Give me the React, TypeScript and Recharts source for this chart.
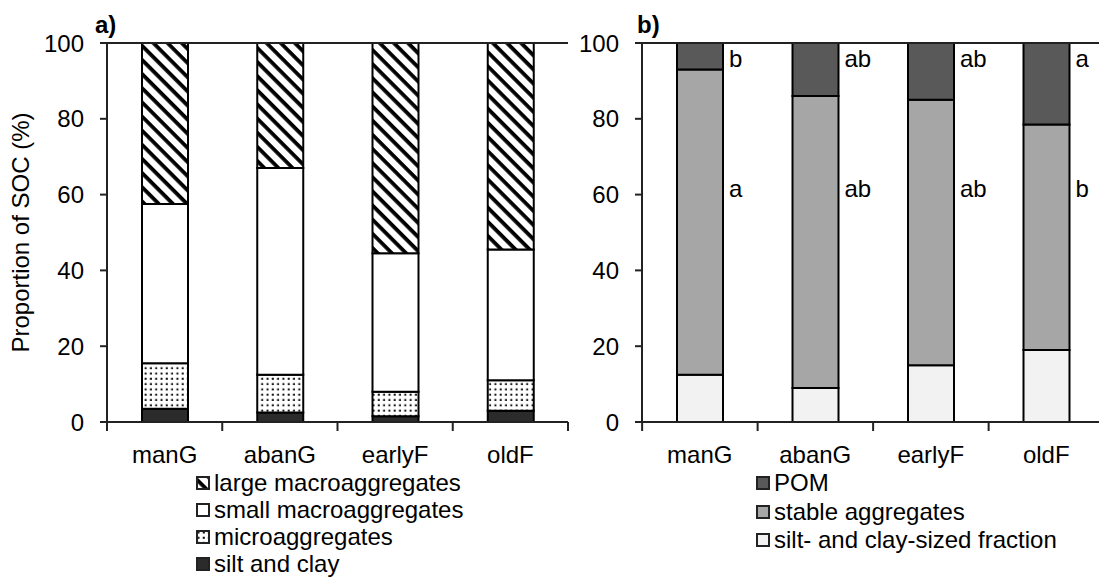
import { BarChart, Bar, XAxis, YAxis, ReferenceLine, LabelList, Legend } from "recharts";

const categories = ["manG", "abanG", "earlyF", "oldF"];
const yTicks = [0, 20, 40, 60, 80, 100];

// a) SOC in aggregate size classes (%), stacked from bottom
const siltAndClay = [3.5, 2.5, 1.5, 3];
const microaggregates = [12, 10, 6.5, 8];
const smallMacro = [42, 54.5, 36.5, 34.5];
const largeMacro = [42.5, 33, 55.5, 54.5];

// b) SOC in density fractions (%), stacked from bottom
const siltClaySized = [12.5, 9, 15, 19];
const stableAggregates = [80.5, 77, 70, 59.5];
const pom = [7, 14, 15, 21.5];
const pomLetters = ["b", "ab", "ab", "a"];
const stableLetters = ["a", "ab", "ab", "b"];

const dataA = categories.map((name, i) => ({
  name,
  silt: siltAndClay[i],
  micro: microaggregates[i],
  small: smallMacro[i],
  large: largeMacro[i],
}));

const dataB = categories.map((name, i) => ({
  name,
  fine: siltClaySized[i],
  stable: stableAggregates[i],
  pom: pom[i],
}));

const FONT = "'Liberation Sans', Arial, sans-serif";
const FS = 24;
const AXIS = "#222";
const H = 579;
const PLOT_W = 461;
const HALF_BAND = PLOT_W / categories.length / 2;

const legendA = [
  { label: "large macroaggregates", fill: "url(#stripes)" },
  { label: "small macroaggregates", fill: "#ffffff" },
  { label: "microaggregates", fill: "url(#dots)" },
  { label: "silt and clay", fill: "#2b2b2b" },
];

const legendB = [
  { label: "POM", fill: "#595959" },
  { label: "stable aggregates", fill: "#a6a6a6" },
  { label: "silt- and clay-sized fraction", fill: "#f2f2f2" },
];

function CategoryTick(props: any) {
  const { x, y, payload, index } = props;
  const last = index === categories.length - 1;
  return (
    <g>
      <line x1={x - HALF_BAND} x2={x - HALF_BAND} y1={y} y2={y + 9} stroke={AXIS} strokeWidth={2} />
      {last && (
        <line x1={x + HALF_BAND} x2={x + HALF_BAND} y1={y} y2={y + 9} stroke={AXIS} strokeWidth={2} />
      )}
      <text x={x} y={y + 41} textAnchor="middle" fontSize={FS} fill="#000" fontFamily={FONT}>
        {payload.value}
      </text>
    </g>
  );
}

function SocLabel(props: any) {
  const vb = props.viewBox || {};
  const cy = vb.y + vb.height / 2;
  return (
    <text
      x={20}
      y={cy}
      transform={`rotate(-90, 20, ${cy})`}
      textAnchor="middle"
      dominantBaseline="central"
      fontSize={FS}
      fill="#000"
      fontFamily={FONT}
    >
      Proportion of SOC (%)
    </text>
  );
}

function LetterLabel(props: any) {
  const { x, y, width, index } = props;
  const tx = Number(x) + Number(width) + 6;
  return (
    <g fontSize={FS} fill="#000" fontFamily={FONT}>
      <text x={tx} y={Number(y) + 24}>{pomLetters[index]}</text>
      <text x={tx} y={Number(y) + 154}>{stableLetters[index]}</text>
    </g>
  );
}

function LegendBox({ items, rowH }: { items: { label: string; fill: string }[]; rowH: number }) {
  return (
    <div style={{ fontFamily: FONT, fontSize: FS, color: "#000" }}>
      {items.map((it) => (
        <div key={it.label} style={{ display: "flex", alignItems: "center", height: rowH, whiteSpace: "nowrap" }}>
          <svg width={15} height={14} style={{ marginRight: 3 }}>
            <rect x={1} y={1} width={12} height={12} fill={it.fill} stroke={AXIS} strokeWidth={2} />
          </svg>
          {it.label}
        </div>
      ))}
    </div>
  );
}

const yAxisProps = {
  domain: [0, 100] as [number, number],
  ticks: yTicks,
  interval: 0 as const,
  tickSize: 7,
  tickMargin: 16,
  stroke: AXIS,
  strokeWidth: 2,
  tick: { fill: "#000", fontSize: FS, fontFamily: FONT },
  allowDataOverflow: true,
};

const titleStyle = {
  position: "absolute" as const,
  top: 13,
  fontSize: FS,
  fontWeight: "bold" as const,
  lineHeight: `${FS}px`,
};

export default function App() {
  return (
    <div
      style={{
        position: "absolute",
        left: 0,
        top: 0,
        width: 1099,
        height: H,
        overflow: "hidden",
        background: "#fff",
        fontFamily: FONT,
      }}
    >
      <div style={{ ...titleStyle, left: 95 }}>a)</div>
      <div style={{ ...titleStyle, left: 637 }}>b)</div>

      {/* panel a */}
      <div style={{ position: "absolute", left: 0, top: 0 }}>
        <BarChart width={575} height={H} data={dataA} margin={{ top: 43, right: 7, bottom: 107, left: 0 }}>
          <defs>
            <pattern id="stripes" patternUnits="userSpaceOnUse" width={10} height={10} patternTransform="rotate(45)">
              <rect width={10} height={10} fill="#fff" />
              <rect width={10} height={3.8} fill="#000" />
            </pattern>
            <pattern id="dots" patternUnits="userSpaceOnUse" width={5.3} height={5.3}>
              <rect width={5.3} height={5.3} fill="#fff" />
              <rect x={1.5} y={1.5} width={2} height={2} fill="#111" />
            </pattern>
          </defs>
          <XAxis
            dataKey="name"
            height={50}
            stroke={AXIS}
            strokeWidth={2}
            tickLine={false}
            tickSize={0}
            tickMargin={0}
            interval={0}
            tick={<CategoryTick />}
          />
          <YAxis width={107} {...yAxisProps} label={{ content: <SocLabel /> }} />
          <YAxis yAxisId="frame" orientation="right" width={0} tick={false} tickLine={false} stroke={AXIS} strokeWidth={2} />
          <ReferenceLine y={100} stroke={AXIS} strokeWidth={2} />
          <Bar dataKey="silt" name="silt and clay" stackId="a" fill="#2b2b2b" stroke="#000" strokeWidth={2} barSize={46} isAnimationActive={false} />
          <Bar dataKey="micro" name="microaggregates" stackId="a" fill="url(#dots)" stroke="#000" strokeWidth={2} barSize={46} isAnimationActive={false} />
          <Bar dataKey="small" name="small macroaggregates" stackId="a" fill="#ffffff" stroke="#000" strokeWidth={2} barSize={46} isAnimationActive={false} />
          <Bar dataKey="large" name="large macroaggregates" stackId="a" fill="url(#stripes)" stroke="#000" strokeWidth={2} barSize={46} isAnimationActive={false} />
          <Legend
            layout="vertical"
            align="center"
            verticalAlign="middle"
            wrapperStyle={{ left: 196, top: 469, width: "auto" }}
            content={() => <LegendBox items={legendA} rowH={27} />}
          />
        </BarChart>
      </div>

      {/* panel b */}
      <div style={{ position: "absolute", left: 575, top: 0 }}>
        <BarChart width={529} height={H} data={dataB} margin={{ top: 43, right: 0, bottom: 107, left: 0 }}>
          <XAxis
            dataKey="name"
            height={50}
            stroke={AXIS}
            strokeWidth={2}
            tickLine={false}
            tickSize={0}
            tickMargin={0}
            interval={0}
            tick={<CategoryTick />}
          />
          <YAxis width={67} {...yAxisProps} />
          <ReferenceLine y={100} stroke={AXIS} strokeWidth={2} />
          <Bar dataKey="fine" name="silt- and clay-sized fraction" stackId="b" fill="#f2f2f2" stroke="#000" strokeWidth={2} barSize={46} isAnimationActive={false} />
          <Bar dataKey="stable" name="stable aggregates" stackId="b" fill="#a6a6a6" stroke="#000" strokeWidth={2} barSize={46} isAnimationActive={false} />
          <Bar dataKey="pom" name="POM" stackId="b" fill="#595959" stroke="#000" strokeWidth={2} barSize={46} isAnimationActive={false}>
            <LabelList dataKey="pom" content={<LetterLabel />} />
          </Bar>
          <Legend
            layout="vertical"
            align="center"
            verticalAlign="middle"
            wrapperStyle={{ left: 181, top: 469, width: "auto" }}
            content={() => <LegendBox items={legendB} rowH={28.5} />}
          />
        </BarChart>
      </div>
    </div>
  );
}
